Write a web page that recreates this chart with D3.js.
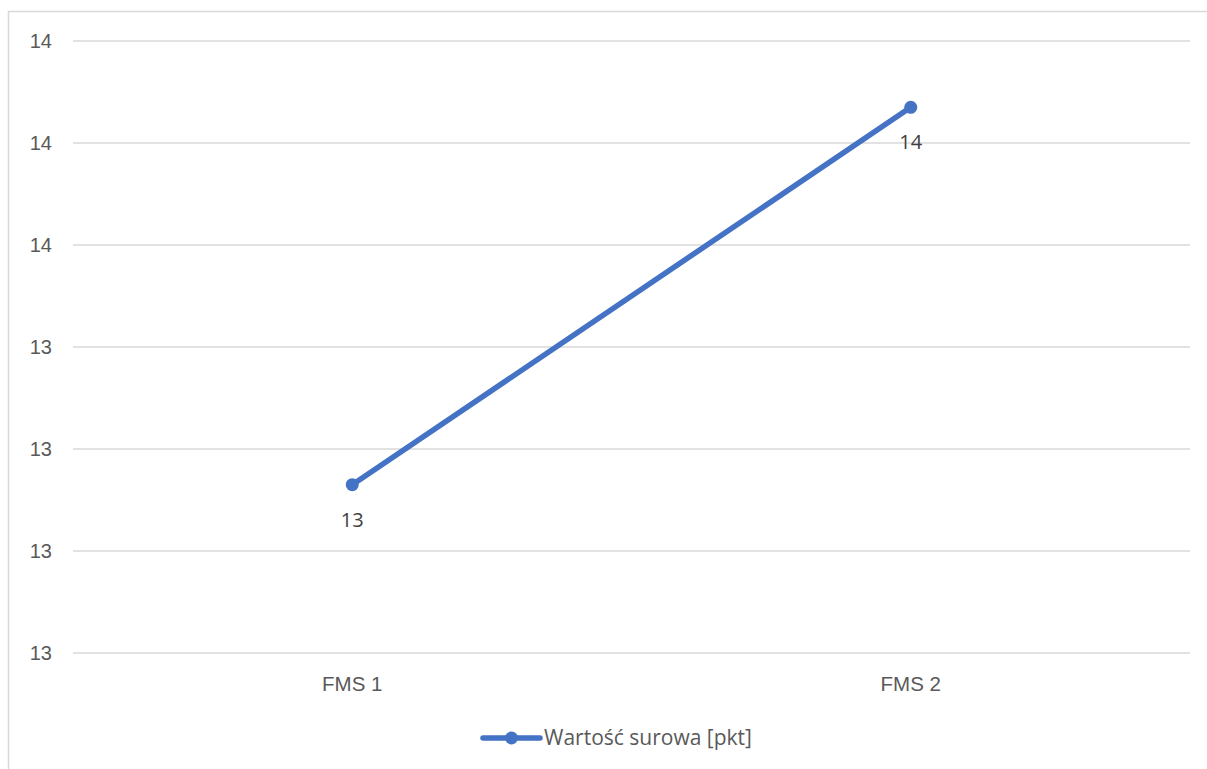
<!DOCTYPE html>
<html>
<head>
<meta charset="utf-8">
<script src="https://cdn.jsdelivr.net/npm/d3@7/dist/d3.min.js"></script>
<style>
  html, body { margin: 0; padding: 0; background: #fff; }
  svg { display: block; font-family: "Open Sans", "Liberation Sans", sans-serif; }
</style>
</head>
<body>
<svg id="chart" width="1207" height="769"></svg>
<script>
// Series data
const categories = ["FMS 1", "FMS 2"];
const values = [13.13, 13.87];
const seriesName = "Wartość surowa [pkt]";
const yTicks = [12.8, 13.0, 13.2, 13.4, 13.6, 13.8, 14.0];

const svg = d3.select("#chart");
const W = 1207, H = 769;
const plot = { left: 73, right: 1190, top: 41, bottom: 653 };
const blue = "#4472C4";
const textColor = "#595959";

// Outer chart frame
svg.append("rect")
  .attr("x", 8.5).attr("y", 11.5)
  .attr("width", W + 10).attr("height", H + 10)
  .attr("fill", "none").attr("stroke", "#d9d9d9").attr("stroke-width", 1.5);

const x = d3.scaleBand().domain(categories).range([plot.left, plot.right]);
const y = d3.scaleLinear().domain([12.8, 14.0]).range([plot.bottom, plot.top]);

// Horizontal gridlines
svg.append("g").selectAll("line").data(yTicks).join("line")
  .attr("x1", plot.left).attr("x2", plot.right)
  .attr("y1", d => y(d)).attr("y2", d => y(d))
  .attr("stroke", "#d9d9d9").attr("stroke-width", 1.5);

// Y axis labels (rounded to whole points)
const fmt = d3.format(".0f");
const yAxis = d3.axisLeft(y).tickValues(yTicks).tickFormat(fmt).tickSize(0).tickPadding(0);
const yg = svg.append("g").attr("transform", "translate(52,0)").call(yAxis);
yg.select(".domain").remove();
yg.selectAll("text").attr("fill", textColor).style("font-size", "20px");

// X axis labels
const xAxis = d3.axisBottom(x).tickSize(0).tickPadding(0);
const xg = svg.append("g").attr("transform", `translate(0,${plot.bottom + 23})`).call(xAxis);
xg.select(".domain").remove();
xg.selectAll("text").attr("fill", textColor).style("font-size", "20.5px");

const cx = d => x(d) + x.bandwidth() / 2;
const pts = categories.map((c, i) => ({ c, v: values[i] }));

// Series line
svg.append("path")
  .datum(pts)
  .attr("fill", "none").attr("stroke", blue).attr("stroke-width", 5.5)
  .attr("stroke-linecap", "round")
  .attr("d", d3.line().x(d => cx(d.c)).y(d => y(d.v)));

// Markers
svg.append("g").selectAll("circle").data(pts).join("circle")
  .attr("cx", d => cx(d.c)).attr("cy", d => y(d.v)).attr("r", 6.5)
  .attr("fill", blue);

// Data labels below each point
svg.append("g").selectAll("text").data(pts).join("text")
  .attr("x", d => cx(d.c)).attr("y", d => y(d.v) + 42)
  .attr("text-anchor", "middle").attr("fill", "#404040").style("font-size", "20px")
  .text(d => fmt(d.v));

// Legend
const lg = svg.append("g").attr("transform", "translate(483,738)");
lg.append("line").attr("x1", 0).attr("x2", 57).attr("y1", 0).attr("y2", 0)
  .attr("stroke", blue).attr("stroke-width", 5.5).attr("stroke-linecap", "round");
lg.append("circle").attr("cx", 28.5).attr("cy", 0).attr("r", 6.5).attr("fill", blue);
lg.append("text").attr("x", 61).attr("y", 7)
  .attr("fill", textColor).style("font-size", "21px").text(seriesName);
</script>
</body>
</html>
